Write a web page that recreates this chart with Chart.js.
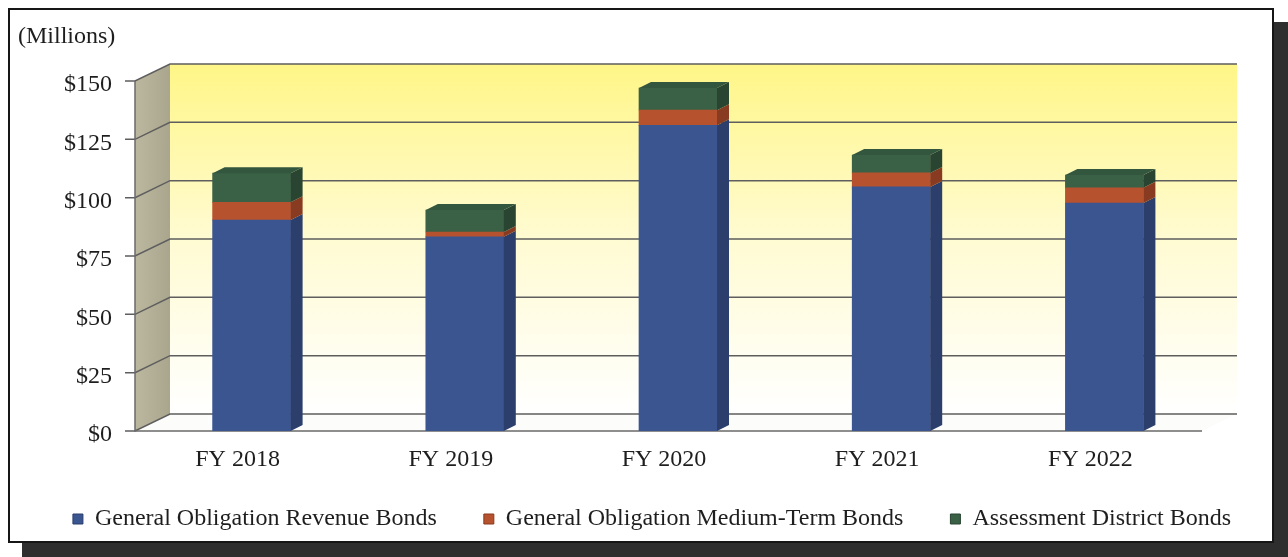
<!DOCTYPE html>
<html>
<head>
<meta charset="utf-8">
<script src="https://cdn.jsdelivr.net/npm/chart.js@4.4.0/dist/chart.umd.min.js"></script>
<style>
  html, body { margin: 0; padding: 0; background: #fff; }
  #wrap { position: relative; width: 1288px; height: 557px; overflow: hidden; }
  .frame {
    position: absolute; left: 8px; top: 8px; width: 1266px; height: 535px;
    box-sizing: border-box; border: 2px solid #161616; background: #fff;
    box-shadow: 14px 14px 0 #2e2e2e;
  }
  canvas { position: absolute; left: 0; top: 0; }
</style>
</head>
<body>
<div id="wrap">
  <div class="frame"></div>
  <canvas id="bondsChart" width="1288" height="557"></canvas>
</div>
<script>
// Bond debt by fiscal year ($ millions)
const categories = ['FY 2018', 'FY 2019', 'FY 2020', 'FY 2021', 'FY 2022'];
const revenueBonds = [90.4, 83.2, 131.0, 104.6, 97.7];
const mediumTermBonds = [7.6, 2.1, 6.5, 6.0, 6.5];
const assessmentBonds = [12.5, 9.4, 9.5, 7.7, 5.5];
const yTicks = [0, 25, 50, 75, 100, 125, 150];
const seriesNames = [
  'General Obligation Revenue Bonds',
  'General Obligation Medium-Term Bonds',
  'Assessment District Bonds'
];

// colours: front face, side face, cap
const faceColors = ['#3b5591', '#b7522f', '#3a6146'];
const sideColors = ['#2b3e6c', '#893b21', '#294532'];
const capColor = '#33563e';

const FONT = '"Liberation Serif", "Times New Roman", serif';
const WALL = { dx: 35, dy: 17, frontGap: 10, rightExtra: 26 };
const BAR3D = { dx: 12, dy: 6 };

const poly = (ctx, pts) => {
  ctx.beginPath();
  ctx.moveTo(pts[0][0], pts[0][1]);
  for (let k = 1; k < pts.length; k++) ctx.lineTo(pts[k][0], pts[k][1]);
  ctx.closePath();
};

// back wall, side wall, floor and gridlines behind the bars
const wallsPlugin = {
  id: 'walls',
  afterLayout(chart) {
    // category labels hang below the short x box, over the legend padding
    const x = chart.scales.x;
    x.bottom = x.top + 50;
  },
  beforeDatasetsDraw(chart) {
    const { ctx, chartArea: a, scales: { y } } = chart;
    const { dx, dy } = WALL;
    const fx = a.left - WALL.frontGap;
    const bx = fx + dx;
    const br = a.right + WALL.rightExtra;
    const fr = br - dx;
    const y0 = a.bottom, y1 = a.top;

    ctx.save();
    const g = ctx.createLinearGradient(0, y1 - dy, 0, y0 - dy);
    g.addColorStop(0, '#fff687');
    g.addColorStop(0.5, '#fffbd2');
    g.addColorStop(1, '#ffffff');
    ctx.fillStyle = g;
    ctx.fillRect(bx, y1 - dy, br - bx, y0 - y1);

    const sg = ctx.createLinearGradient(fx, 0, bx, 0);
    sg.addColorStop(0, '#bcb8a0');
    sg.addColorStop(1, '#aaa68d');
    ctx.fillStyle = sg;
    poly(ctx, [[fx, y1], [bx, y1 - dy], [bx, y0 - dy], [fx, y0]]);
    ctx.fill();

    ctx.fillStyle = '#fcfcfa';
    poly(ctx, [[fx, y0], [bx, y0 - dy], [br, y0 - dy], [fr, y0]]);
    ctx.fill();

    ctx.strokeStyle = '#5e5e5e';
    ctx.lineWidth = 1.5;
    y.ticks.forEach(t => {
      const py = y.getPixelForValue(t.value);
      ctx.beginPath();
      ctx.moveTo(fx - 10, py);
      ctx.lineTo(fx, py);
      ctx.lineTo(bx, py - dy);
      ctx.lineTo(br, py - dy);
      ctx.stroke();
    });

    ctx.strokeStyle = '#6a6a6a';
    ctx.beginPath();
    ctx.moveTo(fx, y1);
    ctx.lineTo(fx, y0);
    ctx.lineTo(fr, y0);
    ctx.stroke();

    ctx.fillStyle = '#1e1e1e';
    ctx.font = '24px ' + FONT;
    ctx.textBaseline = 'middle';
    ctx.fillText('(Millions)', 18, 37);
    ctx.restore();
  }
};

// side faces of each segment and the cap on each stack
const bars3dPlugin = {
  id: 'bars3d',
  afterDatasetsDraw(chart) {
    const { ctx } = chart;
    const { dx, dy } = BAR3D;
    const last = chart.data.datasets.length - 1;
    ctx.save();
    chart.data.datasets.forEach((ds, i) => {
      chart.getDatasetMeta(i).data.forEach(bar => {
        const { x, y, base, width } = bar.getProps(['x', 'y', 'base', 'width'], true);
        const l = x - width / 2, r = x + width / 2;
        ctx.fillStyle = sideColors[i];
        poly(ctx, [[r, y], [r + dx, y - dy], [r + dx, base - dy], [r, base]]);
        ctx.fill();
        if (i === last) {
          ctx.fillStyle = capColor;
          poly(ctx, [[l, y], [l + dx, y - dy], [r + dx, y - dy], [r, y]]);
          ctx.fill();
        }
      });
    });
    ctx.restore();
  }
};

const seriesData = [revenueBonds, mediumTermBonds, assessmentBonds];

new Chart(document.getElementById('bondsChart'), {
  type: 'bar',
  data: {
    labels: categories,
    datasets: seriesData.map((d, i) => ({
      label: seriesNames[i],
      data: d,
      backgroundColor: faceColors[i],
      borderWidth: 0,
      barThickness: 78
    }))
  },
  options: {
    responsive: false,
    animation: false,
    layout: { padding: { left: 16, right: 0, top: 81, bottom: 16 } },
    scales: {
      x: {
        stacked: true,
        grid: { display: false, drawTicks: false },
        border: { display: false },
        ticks: {
          color: '#1e1e1e',
          font: { family: FONT, size: 24 },
          padding: 14,
          labelOffset: -14,
          maxRotation: 0
        },
        afterFit: s => { s.height = 29; }
      },
      y: {
        stacked: true,
        min: 0,
        max: 150,
        grid: { display: false, drawTicks: false },
        border: { display: false },
        afterBuildTicks: s => { s.ticks = yTicks.map(v => ({ value: v })); },
        ticks: {
          color: '#1e1e1e',
          font: { family: FONT, size: 24 },
          padding: 33,
          labelOffset: 4,
          callback: v => '$' + v
        },
        afterFit: s => { s.width = 129; }
      },
      yRight: {
        type: 'linear',
        position: 'right',
        grid: { display: false, drawTicks: false },
        border: { display: false },
        ticks: { display: false },
        afterFit: s => { s.width = 77; }
      }
    },
    plugins: {
      tooltip: { enabled: false },
      legend: {
        position: 'bottom',
        labels: {
          color: '#1e1e1e',
          font: { family: FONT, size: 24 },
          boxWidth: 10,
          boxHeight: 10,
          padding: 47,
          generateLabels(chart) {
            const items = Chart.defaults.plugins.legend.labels.generateLabels(chart);
            items.forEach((it, i) => { it.strokeStyle = sideColors[i]; it.lineWidth = 1; });
            return items;
          }
        }
      }
    }
  },
  plugins: [wallsPlugin, bars3dPlugin]
});
</script>
</body>
</html>
